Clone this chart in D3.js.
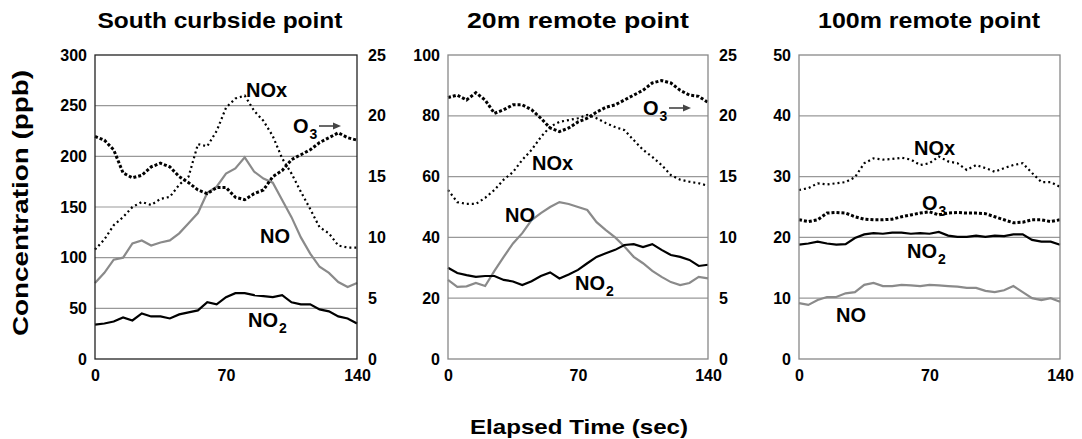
<!DOCTYPE html>
<html>
<head>
<meta charset="utf-8">
<script src="https://cdn.jsdelivr.net/npm/d3@7"></script>
<style>
  body { margin: 0; background: #fff; }
  text { font-family: "Liberation Sans", Arial, sans-serif; font-weight: bold; fill: #000; }
</style>
</head>
<body>
<script>
const width = 1082;
const height = 439;

// elapsed time, every 5 s
const time = d3.range(0, 141, 5);
const xTicks = [0, 70, 140];

// South curbside point
const curbNOx = [108, 118, 132, 140, 150, 155, 152, 158, 160, 172, 180, 212, 210, 225, 248, 257, 260, 245, 235, 220, 198, 183, 165, 148, 130, 124, 112, 110, 110];
const curbNO  = [75, 85, 98, 100, 114, 117, 112, 115, 117, 124, 134, 144, 164, 170, 183, 188, 199, 185, 178, 174, 157, 140, 120, 104, 91, 85, 76, 71, 75];
const curbNO2 = [34, 35, 37, 41, 38, 45, 42, 42, 40, 44, 46, 48, 56, 54, 61, 65, 65, 63, 62, 61, 63, 56, 54, 54, 49, 47, 42, 40, 35];
const curbO3  = [18.3, 18.0, 17.2, 15.3, 14.9, 15.1, 15.8, 16.1, 15.8, 15.0, 14.5, 13.9, 13.6, 14.1, 14.1, 13.3, 13.1, 13.6, 13.9, 15.0, 15.5, 16.4, 16.8, 17.2, 17.8, 18.2, 18.6, 18.2, 18.0];

// 20m remote point
const r20NOx = [55.6, 51.6, 51, 51, 53, 55.6, 59, 61.5, 65.5, 68.8, 73, 76.4, 78, 78.6, 79.2, 80.3, 79.2, 77.6, 76.3, 75.3, 72, 68.8, 66.5, 63.8, 60.5, 59, 58.3, 57.8, 57];
const r20NO  = [26, 23.7, 23.9, 25, 24, 29, 33.6, 38, 41.4, 45.7, 48, 50, 51.6, 51, 50, 49, 45, 42.4, 40, 37, 33.6, 31.5, 29, 27, 25.3, 24.3, 25, 27, 26.5];
const r20NO2 = [30, 28.3, 27.6, 27, 27.3, 27.3, 26, 25.5, 24.3, 25.6, 27.3, 28.5, 26.5, 27.8, 29.3, 31.5, 33.6, 34.8, 35.9, 37.5, 37.8, 36.8, 37.8, 35.9, 34.2, 33.6, 32.6, 30.6, 31];
const r20O3  = [21.5, 21.7, 21.3, 21.9, 21.3, 20.2, 20.5, 20.9, 20.9, 20.5, 19.8, 19.0, 18.7, 19.0, 19.5, 19.8, 20.3, 20.7, 20.9, 21.3, 21.7, 22.1, 22.7, 22.9, 22.7, 22.1, 21.7, 21.6, 21.1];

// 100m remote point (O3 on the left axis)
const r100NOx = [27.8, 28.1, 28.9, 28.7, 28.9, 29.1, 29.9, 32.2, 33, 32.8, 32.9, 33.1, 32.8, 31.9, 32.2, 33.3, 32.5, 32.2, 31.1, 31.9, 31.4, 30.8, 31.4, 31.9, 32.2, 30.6, 29.1, 29.1, 28.3];
const r100O3  = [22.9, 22.6, 22.9, 24, 24.1, 24, 23.4, 23, 22.9, 22.9, 23, 23.4, 23.7, 24, 24.2, 23.7, 24, 24.1, 24, 24, 23.9, 23.4, 22.9, 22.4, 22.5, 22.9, 22.9, 22.6, 22.9];
const r100NO2 = [18.8, 19, 19.3, 19, 18.8, 18.9, 19.9, 20.5, 20.7, 20.6, 20.8, 20.8, 20.6, 20.7, 20.6, 20.9, 20.3, 20.1, 20.1, 20.3, 20.1, 20.3, 20.2, 20.5, 20.5, 19.6, 19.3, 19.3, 18.8];
const r100NO  = [9.2, 8.9, 9.7, 10.2, 10.2, 10.8, 11, 12.2, 12.5, 12, 12, 12.2, 12.1, 12, 12.2, 12.1, 12, 11.9, 11.7, 11.7, 11.2, 11, 11.3, 12, 11, 10, 9.7, 10, 9.4];

const panels = [
    {title: "South curbside point", titleX: 220, titleW: 245,
     left: 95, right: 357, yMax: 300, yStep: 50, o3Max: 25,
     nox: curbNOx, no: curbNO, no2: curbNO2, o3: curbO3, o3Right: true, box: "#222",
     labels: [
        {name: "NOx", x: 246, y: 97},
        {name: "O", sub: "3", arrow: true, x: 293, y: 133},
        {name: "NO", x: 260, y: 243},
        {name: "NO", sub: "2", x: 248, y: 327}]},
    {title: "20m remote point", titleX: 578, titleW: 222,
     left: 448, right: 708, yMax: 100, yStep: 20, o3Max: 25,
     nox: r20NOx, no: r20NO, no2: r20NO2, o3: r20O3, o3Right: true, box: "#888",
     labels: [
        {name: "O", sub: "3", arrow: true, x: 643, y: 115},
        {name: "NOx", x: 532, y: 170},
        {name: "NO", x: 505, y: 222},
        {name: "NO", sub: "2", x: 575, y: 290}]},
    {title: "100m remote point", titleX: 929, titleW: 222,
     left: 799, right: 1060, yMax: 50, yStep: 10, o3Max: null,
     nox: r100NOx, no: r100NO, no2: r100NO2, o3: r100O3, o3Right: false, box: "#888",
     labels: [
        {name: "NOx", x: 914, y: 155},
        {name: "O", sub: "3", x: 922, y: 210},
        {name: "NO", sub: "2", x: 907, y: 258},
        {name: "NO", x: 836, y: 322}]}
];

const plotTop = 55, plotBottom = 359;

let svg = d3.select("body").append("svg")
    .attr("width", width)
    .attr("height", height);

panels.forEach(p => {
    let x = d3.scaleLinear().domain([0, 140]).range([p.left, p.right]);
    let y = d3.scaleLinear().domain([0, p.yMax]).range([plotBottom, plotTop]);
    let yO3 = p.o3Right ? d3.scaleLinear().domain([0, p.o3Max]).range([plotBottom, plotTop]) : y;

    let g = svg.append("g");

    // gridlines
    g.selectAll("line.grid")
        .data(d3.range(p.yStep, p.yMax, p.yStep))
        .join("line")
        .attr("x1", p.left).attr("x2", p.right)
        .attr("y1", d => y(d)).attr("y2", d => y(d))
        .attr("stroke", "#999").attr("stroke-width", 1.2);

    // axes (labels only)
    let leftAxis = d3.axisLeft(y).tickValues(d3.range(0, p.yMax + 1, p.yStep)).tickSize(0).tickPadding(8);
    g.append("g").attr("transform", `translate(${p.left},0)`).call(leftAxis)
        .call(a => a.select(".domain").remove())
        .selectAll("text").style("font-size", "16px").attr("fill", "#000");

    if (p.o3Right) {
        let rightAxis = d3.axisRight(yO3).tickValues(d3.range(0, p.o3Max + 1, 5)).tickSize(0).tickPadding(11);
        g.append("g").attr("transform", `translate(${p.right},0)`).call(rightAxis)
            .call(a => a.select(".domain").remove())
            .selectAll("text").style("font-size", "16px").attr("fill", "#000");
    }

    let bottomAxis = d3.axisBottom(x).tickValues(xTicks).tickSize(0).tickPadding(11);
    g.append("g").attr("transform", `translate(0,${plotBottom})`).call(bottomAxis)
        .call(a => a.select(".domain").remove())
        .selectAll("text").style("font-size", "16px").attr("fill", "#000");

    // series
    let line = (vals, sc) => d3.line().x((d, i) => x(time[i])).y(d => sc(d))(vals);
    g.append("path").attr("d", line(p.no, y)).attr("fill", "none")
        .attr("stroke", "#8a8a8a").attr("stroke-width", 2.2);
    g.append("path").attr("d", line(p.no2, y)).attr("fill", "none")
        .attr("stroke", "#000").attr("stroke-width", 2.2);
    g.append("path").attr("d", line(p.nox, y)).attr("fill", "none")
        .attr("stroke", "#000").attr("stroke-width", 2.2).attr("stroke-dasharray", "2,3");
    g.append("path").attr("d", line(p.o3, yO3)).attr("fill", "none")
        .attr("stroke", "#000").attr("stroke-width", 3).attr("stroke-dasharray", "3,2");

    // plot box
    g.append("rect")
        .attr("x", p.left).attr("y", plotTop)
        .attr("width", p.right - p.left).attr("height", plotBottom - plotTop)
        .attr("fill", "none").attr("stroke", p.box).attr("stroke-width", 1.3);

    // title
    svg.append("text")
        .attr("x", p.titleX).attr("y", 28)
        .attr("text-anchor", "middle").style("font-size", "22px")
        .attr("textLength", p.titleW).attr("lengthAdjust", "spacingAndGlyphs")
        .text(p.title);

    // series labels with subscripts
    p.labels.forEach(l => {
        let t = svg.append("text").attr("x", l.x).attr("y", l.y).style("font-size", "20px");
        t.append("tspan").text(l.name);
        if (l.sub) t.append("tspan").attr("dy", 6).attr("dx", 1).style("font-size", "14px").text(l.sub);
        if (l.arrow) {
            let ax = l.x + 26, ay = l.y - 7;
            svg.append("line").attr("x1", ax).attr("x2", ax + 16).attr("y1", ay).attr("y2", ay)
                .attr("stroke", "#444").attr("stroke-width", 1.6);
            svg.append("path").attr("d", `M${ax + 22},${ay} L${ax + 14},${ay - 3.5} L${ax + 14},${ay + 3.5} Z`)
                .attr("fill", "#444");
        }
    });
});

// axis titles
svg.append("text")
    .attr("transform", "translate(28,203) rotate(-90)")
    .attr("text-anchor", "middle").style("font-size", "22px")
    .attr("textLength", 266).attr("lengthAdjust", "spacingAndGlyphs")
    .text("Concentration (ppb)");

svg.append("text")
    .attr("x", 579).attr("y", 434)
    .attr("text-anchor", "middle").style("font-size", "21px")
    .attr("textLength", 218).attr("lengthAdjust", "spacingAndGlyphs")
    .text("Elapsed Time (sec)");
</script>
</body>
</html>
